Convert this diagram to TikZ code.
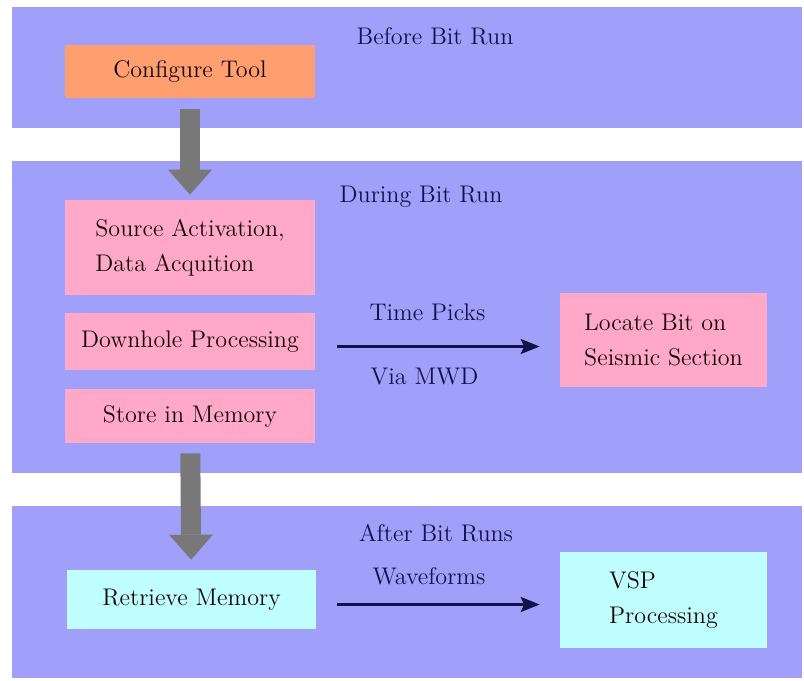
\documentclass[tikz,border=0pt]{standalone}
\usetikzlibrary{arrows.meta}

\definecolor{bandblue}{HTML}{A0A0FA}
\definecolor{orangebox}{HTML}{FF9E6E}
\definecolor{pinkbox}{HTML}{FFA8C8}
\definecolor{cyanbox}{HTML}{C0FFFF}
\definecolor{arrowgray}{HTML}{787878}
\definecolor{boxtext}{HTML}{180808}
\definecolor{phasetext}{HTML}{12124A}

\begin{document}
\begin{tikzpicture}[x=0.02cm, y=-0.02cm,
    task/.style={inner sep=0pt, text=boxtext, align=left,
                 font=\fontsize{13.7}{20}\selectfont},
    phase/.style={text=phasetext, font=\fontsize{13.7}{20}\selectfont},
    flow/.style={draw=phasetext, line width=1.4pt,
                 -{Stealth[length=0.38cm, width=0.3cm, inset=0.07cm]}},
    bigarrow/.style={draw=arrowgray, line width=0.4cm,
                 -{Triangle[length=0.5cm, width=0.88cm, line width=0pt]}}]

    % --- Page and the three phase bands ---
    \fill[white] (0,0) rectangle (804,680);
    \useasboundingbox (0,0) rectangle (804,680);
    \fill[bandblue] (12,7)   rectangle (802,128);
    \fill[bandblue] (12,161) rectangle (802,473);
    \fill[bandblue] (12,506) rectangle (802,678);

    % --- Phase titles ---
    \node[phase] (before) at (435,36)  {Before Bit Run};
    \node[phase] (during) at (421,197) {During Bit Run};
    \node[phase] (after)  at (436,533) {After Bit Runs};

    % --- Task boxes ---
    \node[task, fill=orangebox, minimum width=5cm, minimum height=1.06cm]
        (config) at (190,71.5) {Configure Tool};
    \node[task, fill=pinkbox, minimum width=5cm, minimum height=1.9cm]
        (source) at (190,247.5) {Source Activation,\\Data Acquition};
    \node[task, fill=pinkbox, minimum width=5cm, minimum height=1.14cm]
        (downhole) at (190,341.5) {Downhole Processing};
    \node[task, fill=pinkbox, minimum width=5cm, minimum height=1.08cm]
        (store) at (190,416) {Store in Memory};
    \node[task, fill=pinkbox, minimum width=4.14cm, minimum height=1.88cm]
        (locate) at (663.5,340) {Locate Bit on\\Seismic Section};
    \node[task, fill=cyanbox, minimum width=4.98cm, minimum height=1.18cm]
        (retrieve) at (191.5,599.5) {Retrieve Memory};
    \node[task, fill=cyanbox, minimum width=4.14cm, minimum height=1.92cm]
        (vsp) at (663.5,600) {VSP\\Processing};

    % --- Gray arrows between the phases ---
    \draw[bigarrow, shorten <=0.22cm, shorten >=0.1cm] (config) -- (source);
    \draw[bigarrow, shorten <=0.2cm, shorten >=0.2cm] (store) -- (retrieve);

    % --- Data links ---
    \draw[flow, shorten <=0.44cm, shorten >=0.4cm]
        ([yshift=-0.1cm]downhole.east) -- ([yshift=-0.1cm]downhole.east -| locate.west)
        node[phase, midway, xshift=-0.2cm, yshift=0.68cm] (picks) {Time Picks}
        node[phase, midway, xshift=-0.26cm, yshift=-0.6cm] (mwd) {Via MWD};
    \draw[flow, shorten <=0.42cm, shorten >=0.4cm]
        ([yshift=-0.1cm]retrieve.east) -- ([yshift=-0.1cm]retrieve.east -| vsp.west)
        node[phase, midway, xshift=-0.18cm, yshift=0.56cm] (waves) {Waveforms};

\end{tikzpicture}
\end{document}
